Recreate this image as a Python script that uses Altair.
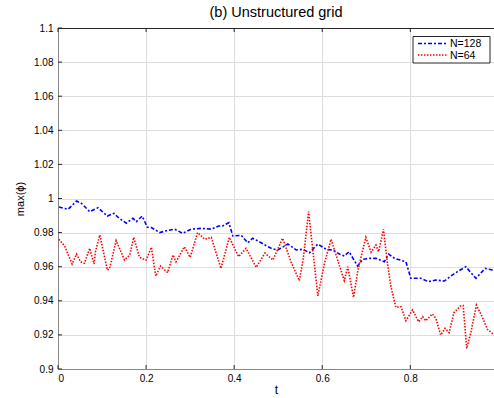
import altair as alt
import pandas as pd

# N=128 series
t128 = [0.002,0.023,0.042,0.053,0.072,0.091,0.112,0.127,0.136,0.155,0.170,0.178,0.191,0.203,0.212,
        0.231,0.246,0.265,0.283,0.302,0.325,0.348,0.365,0.374,0.388,0.397,0.416,0.431,0.442,0.457,
        0.472,0.484,0.499,0.522,0.541,0.556,0.571,0.590,0.609,0.624,0.639,0.650,0.661,0.680,0.692,
        0.707,0.722,0.741,0.751,0.764,0.790,0.801,0.824,0.841,0.858,0.877,0.892,0.907,0.926,0.949,
        0.970,0.988]
v128 = [0.995,0.9937,0.9985,0.9972,0.9923,0.9946,0.9897,0.9913,0.989,0.9855,0.9884,0.9864,0.9897,0.9831,0.983,
        0.980,0.9811,0.982,0.9796,0.982,0.9825,0.982,0.9839,0.9839,0.9858,0.978,0.9784,0.974,0.9767,0.9747,
        0.9724,0.9708,0.9698,0.9733,0.9698,0.9702,0.9682,0.9733,0.9702,0.9698,0.9674,0.9663,0.9688,0.9604,0.9643,
        0.9649,0.9649,0.9629,0.9674,0.9649,0.9629,0.9532,0.9532,0.9512,0.9522,0.9516,0.9545,0.9571,0.960,0.9532,
        0.959,0.958]

# N=64 series
t64 = [0.002,0.015,0.032,0.042,0.051,0.060,0.072,0.077,0.082,0.085,0.095,0.112,0.117,0.132,0.151,
       0.163,0.172,0.185,0.200,0.212,0.222,0.233,0.249,0.261,0.268,0.287,0.300,0.317,0.333,0.348,
       0.370,0.389,0.410,0.427,0.450,0.470,0.488,0.510,0.529,0.548,0.557,0.569,0.590,0.605,0.620,
       0.635,0.650,0.658,0.671,0.681,0.699,0.711,0.722,0.728,0.739,0.748,0.756,0.767,0.779,0.790,
       0.805,0.819,0.828,0.835,0.850,0.858,0.869,0.879,0.888,0.899,0.914,0.920,0.928,0.937,0.950,
       0.963,0.975,0.988]
v64 = [0.9761,0.9721,0.9616,0.9674,0.9629,0.962,0.9708,0.9659,0.9616,0.9688,0.9786,0.958,0.9588,0.9753,0.9639,
       0.9669,0.9772,0.9655,0.9639,0.9714,0.9545,0.9604,0.9565,0.9669,0.9629,0.9717,0.9655,0.980,0.9761,0.9772,
       0.959,0.9772,0.9659,0.9708,0.9596,0.968,0.9639,0.9767,0.9629,0.9518,0.9649,0.9923,0.9428,0.962,0.9761,
       0.9639,0.9518,0.960,0.942,0.958,0.9772,0.9685,0.9727,0.9688,0.9819,0.962,0.9483,0.9362,0.9365,0.9283,
       0.9346,0.9277,0.9307,0.9283,0.9323,0.9297,0.9199,0.9239,0.9213,0.933,0.937,0.9372,0.9121,0.9209,0.9375,
       0.9307,0.9233,0.9205]

series_names = ["N=128", "N=64"]
series_colors = ["#0000ff", "#ff0000"]
series_dashes = [[4, 2, 2, 2], [1.5, 1.5]]

x_ticks = [0, 0.2, 0.4, 0.6, 0.8]
y_ticks = [0.9, 0.92, 0.94, 0.96, 0.98, 1.0, 1.02, 1.04, 1.06, 1.08, 1.1]

rows = []
for t, v in zip(t128, v128):
    rows.append({"t": t, "v": v, "series": series_names[0]})
for t, v in zip(t64, v64):
    rows.append({"t": t, "v": v, "series": series_names[1]})
df = pd.DataFrame(rows)

W, H = 436, 341
FONT = "Liberation Sans"
AX = "#262626"

xscale = alt.Scale(domain=[0, 0.99], nice=False)
yscale = alt.Scale(domain=[0.9, 1.1], nice=False)

x_axis = alt.Axis(title="t", values=x_ticks, format="~g", grid=True, ticks=False,
                  labelPadding=4, titlePadding=1, labelOverlap=False,
                  titleFontWeight="normal", titleFontSize=12)
y_axis = alt.Axis(title="max(ϕ)", values=y_ticks, format="~g", grid=True, ticks=False,
                  labelPadding=5, titlePadding=8, labelOverlap=False,
                  titleFontWeight="normal", titleFontSize=11)

lines = alt.Chart(df).mark_line(strokeWidth=1.6, clip=True).encode(
    x=alt.X("t:Q", scale=xscale, axis=x_axis),
    y=alt.Y("v:Q", scale=yscale, axis=y_axis),
    color=alt.Color("series:N",
                    scale=alt.Scale(domain=series_names, range=series_colors),
                    legend=None),
    strokeDash=alt.StrokeDash("series:N",
                              scale=alt.Scale(domain=series_names, range=series_dashes),
                              legend=None),
    order=alt.Order("t:Q"),
)

ydf = pd.DataFrame({"y": y_ticks})
xdf = pd.DataFrame({"x": x_ticks})
ytick_left = alt.Chart(ydf).mark_rule(color=AX, strokeWidth=1).encode(
    y=alt.Y("y:Q", scale=yscale, axis=y_axis), x=alt.value(0), x2=alt.value(4))
xtick_bottom = alt.Chart(xdf).mark_rule(color=AX, strokeWidth=1).encode(
    x=alt.X("x:Q", scale=xscale, axis=x_axis), y=alt.value(H), y2=alt.value(H - 4))
xtick_top = alt.Chart(xdf).mark_rule(color=AX, strokeWidth=1).encode(
    x=alt.X("x:Q", scale=xscale, axis=x_axis), y=alt.value(0), y2=alt.value(4))
top_border = alt.Chart(xdf.head(1)).mark_rule(color=AX, strokeWidth=1).encode(
    x=alt.value(0), x2=alt.value(W), y=alt.value(0.5))

# legend box (drawn by hand, MATLAB style)
legend_layers = [
    alt.Chart(xdf.head(1)).mark_rect(fill="white", stroke=AX, strokeWidth=1).encode(
        x=alt.value(355), x2=alt.value(432), y=alt.value(8.5), y2=alt.value(35))
]
for i, name in enumerate(series_names):
    ly = 15.5 + i * 11.5
    ldf = pd.DataFrame({"series": [name]})
    legend_layers.append(
        alt.Chart(ldf).mark_rule(strokeWidth=1.6, color=series_colors[i],
                                 strokeDash=series_dashes[i]).encode(
            x=alt.value(360), x2=alt.value(390), y=alt.value(ly)))
    legend_layers.append(
        alt.Chart(ldf).mark_text(align="left", baseline="middle", font=FONT, fontSize=10.5,
                                 color="#000000").encode(
            x=alt.value(392), y=alt.value(ly + 0.5), text="series:N"))

chart = alt.layer(lines, ytick_left, xtick_bottom, xtick_top, top_border, *legend_layers).properties(
    width=W, height=H,
    title=alt.Title("(b) Unstructured grid", fontSize=14.5, fontWeight="normal", font=FONT,
                    color="#000000", anchor="middle", offset=3),
    padding={"left": 58, "top": 28, "right": 0, "bottom": 29},
    autosize=alt.AutoSizeParams(type="none"),
).configure_view(
    strokeWidth=0
).configure_axis(
    labelFont=FONT, titleFont=FONT, labelFontSize=13,
    labelColor=AX, titleColor=AX, domainColor=AX, gridColor="#e5e5e5",
    domainWidth=1
).configure(background="white")

chart.save("out.html", embed_options={"renderer": "svg", "actions": False})
